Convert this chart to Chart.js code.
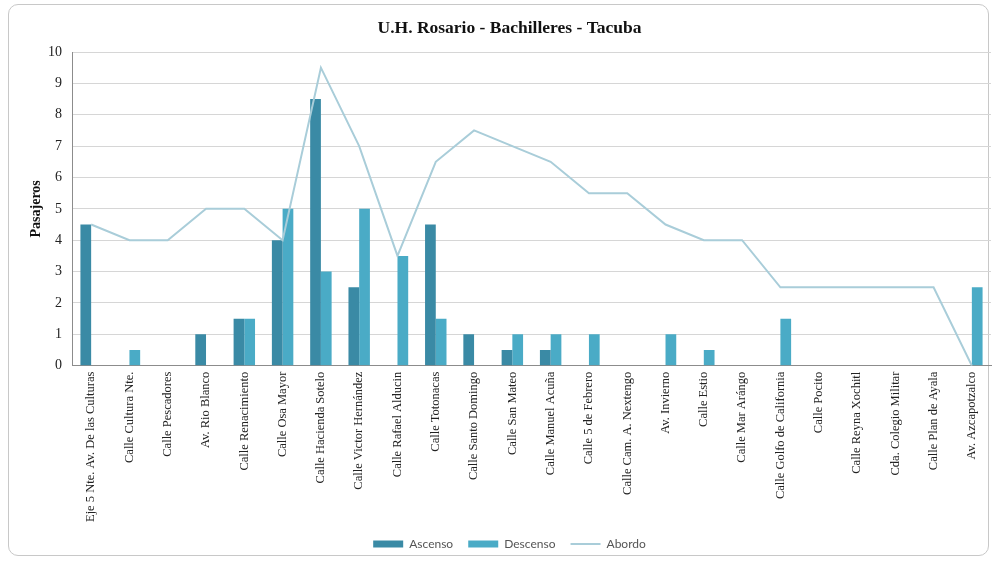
<!DOCTYPE html>
<html>
<head>
<meta charset="utf-8">
<title>U.H. Rosario - Bachilleres - Tacuba</title>
<script src="https://cdn.jsdelivr.net/npm/chart.js@4"></script>
<style>
  html, body { margin: 0; padding: 0; background: #fff; }
  #frame {
    position: absolute; left: 8px; top: 4px; width: 981px; height: 552px;
    border: 1px solid #c8c8c8; border-radius: 10px; box-sizing: border-box;
  }
  #wrap { position: absolute; left: 0; top: 0; width: 997px; height: 564px; }
</style>
</head>
<body>
<div id="frame"></div>
<div id="wrap"><canvas id="grafica"></canvas></div>
<script>
"use strict";

// paradas de la ruta
const paradas = [
  "Eje 5 Nte. Av. De las Culturas", "Calle Cultura Nte.", "Calle Pescadores",
  "Av. Rio Blanco", "Calle Renacimiento", "Calle Osa Mayor", "Calle Hacienda Sotelo",
  "Calle Victor Hernández", "Calle Rafael Alducin", "Calle Totonacas",
  "Calle Santo Domingo", "Calle San Mateo", "Calle Manuel Acuña", "Calle 5 de Febrero",
  "Calle Cam. A. Nextengo", "Av. Invierno", "Calle Estio", "Calle Mar Arángo",
  "Calle Golfo de California", "Calle Pocito", "Calle Reyna Xochitl",
  "Cda. Colegio Militar", "Calle Plan de Ayala", "Av. Azcapotzalco"
];

// pasajeros que suben, bajan y van a bordo
const ascenso  = [4.5, 0, 0, 1, 1.5, 4, 8.5, 2.5, 0, 4.5, 1, 0.5, 0.5, 0, 0, 0, 0, 0, 0, 0, 0, 0, 0, 0];
const descenso = [0, 0.5, 0, 0, 1.5, 5, 3, 5, 3.5, 1.5, 0, 1, 1, 1, 0, 1, 0.5, 0, 1.5, 0, 0, 0, 0, 2.5];
const abordo   = [4.5, 4, 4, 5, 5, 4, 9.5, 7, 3.5, 6.5, 7.5, 7, 6.5, 5.5, 5.5, 4.5, 4, 4, 2.5, 2.5, 2.5, 2.5, 2.5, 0];

const orden = ["Ascenso", "Descenso", "Abordo"];
const serif = "'Liberation Serif', 'DejaVu Serif', serif";

new Chart(document.getElementById("grafica"), {
  type: "bar",
  data: {
    labels: paradas,
    datasets: [
      {
        type: "line",
        label: "Abordo",
        data: abordo,
        borderColor: "#a9cdd9",
        backgroundColor: "#a9cdd9",
        borderWidth: 2,
        pointRadius: 0,
        pointStyle: "line",
        tension: 0,
        order: 0
      },
      {
        label: "Ascenso",
        data: ascenso,
        backgroundColor: "#3a8aa5",
        pointStyle: "rect",
        barPercentage: 1,
        categoryPercentage: 0.56,
        order: 1
      },
      {
        label: "Descenso",
        data: descenso,
        backgroundColor: "#4aabc6",
        pointStyle: "rect",
        barPercentage: 1,
        categoryPercentage: 0.56,
        order: 1
      }
    ]
  },
  options: {
    responsive: true,
    maintainAspectRatio: false,
    animation: false,
    layout: { padding: { left: 28, right: 6, top: 10, bottom: 4 } },
    plugins: {
      title: {
        display: true,
        text: "U.H. Rosario - Bachilleres - Tacuba",
        color: "#111",
        font: { family: serif, size: 17.5, weight: "bold" },
        padding: { top: 8, bottom: 13 }
      },
      legend: {
        position: "bottom",
        labels: {
          usePointStyle: true,
          pointStyleWidth: 30,
          boxHeight: 7,
          color: "#555",
          font: { family: "Lato, 'Open Sans', sans-serif", size: 12 },
          padding: 12,
          sort: (a, b) => orden.indexOf(a.text) - orden.indexOf(b.text),
          // un poco mas de espacio entre los items
          generateLabels: (chart) => {
            const items = Chart.defaults.plugins.legend.labels.generateLabels(chart);
            items.forEach(it => { if (it.text !== "Abordo") it.text = it.text + " "; });
            return items;
          }
        }
      },
      tooltip: { enabled: false }
    },
    scales: {
      x: {
        grid: { display: false, drawTicks: false },
        border: { color: "#8c8c8c" },
        afterFit: (s) => { s.height -= 2; },
        ticks: {
          color: "#222",
          autoSkip: false,
          minRotation: 90,
          maxRotation: 90,
          padding: 6,
          font: { family: serif, size: 12.5 }
        }
      },
      y: {
        min: 0,
        max: 10,
        afterFit: (s) => { s.width = 44; },
        ticks: {
          stepSize: 1,
          color: "#222",
          padding: 10,
          font: { family: serif, size: 14 }
        },
        grid: { color: "#d6d6d6", drawTicks: false },
        border: { color: "#8c8c8c" },
        title: {
          display: true,
          text: "Pasajeros",
          color: "#111",
          font: { family: serif, size: 14, weight: "bold" },
          padding: { top: 0, bottom: 0 }
        }
      }
    }
  }
});
</script>
</body>
</html>
